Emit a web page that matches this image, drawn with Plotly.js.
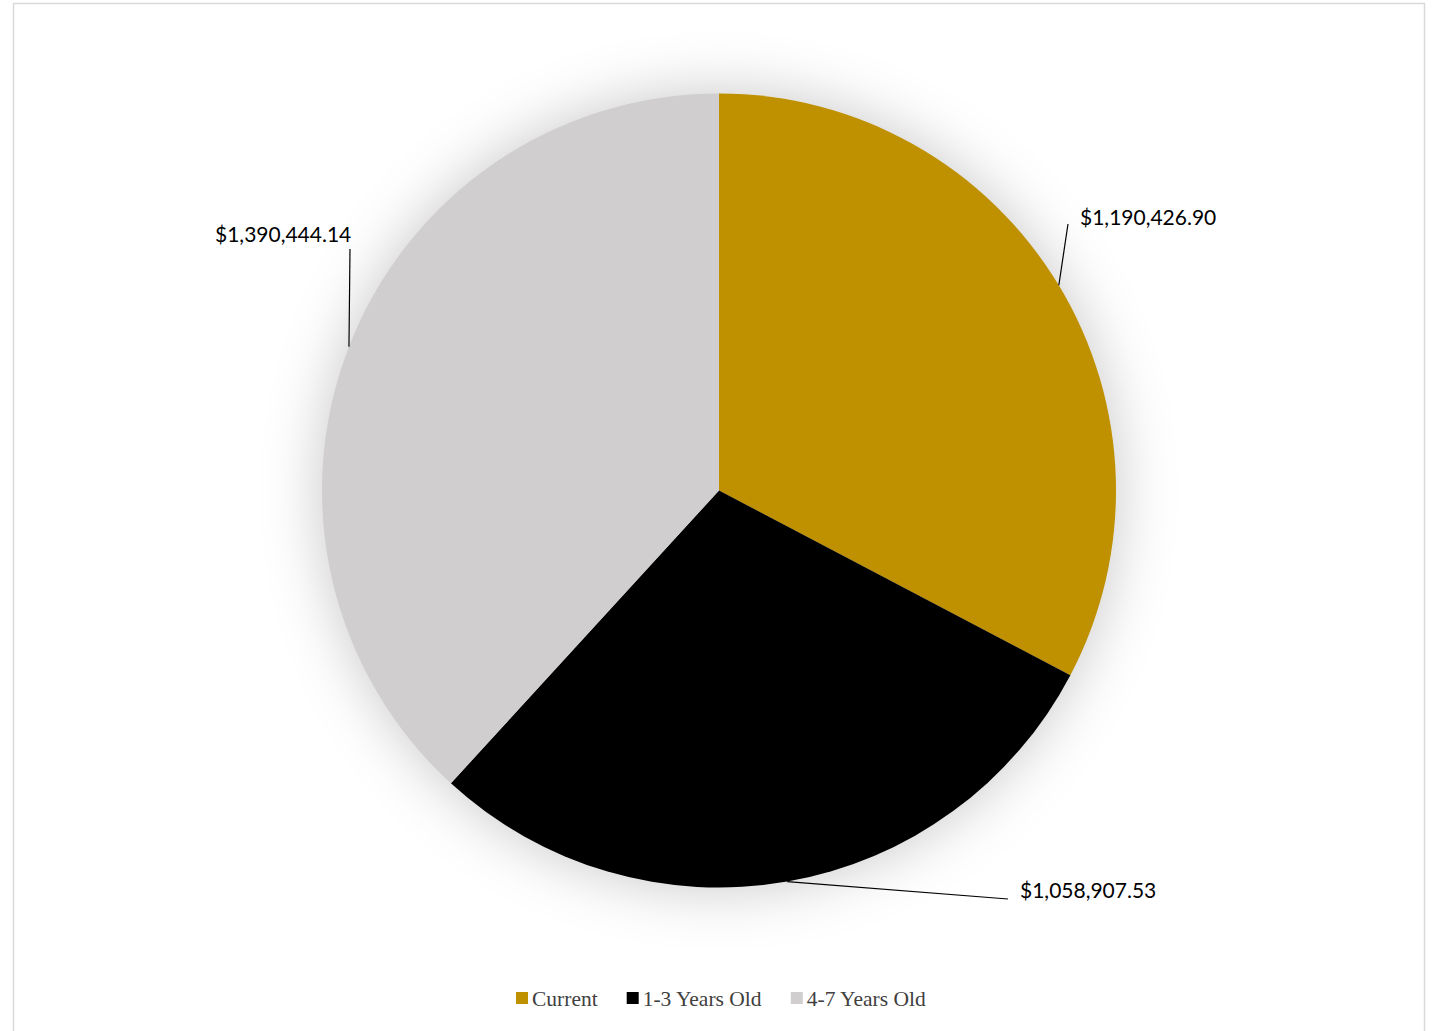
<!DOCTYPE html>
<html>
<head>
<meta charset="utf-8">
<script src="https://cdn.plot.ly/plotly-3.0.1.min.js"></script>
<style>
  html, body { margin: 0; padding: 0; background: #ffffff; }
  #chart { width: 1432px; height: 1031px; }
</style>
</head>
<body>
<div id="chart"></div>
<script>
// ---- data ----
const categories = ["Current", "1-3 Years Old", "4-7 Years Old"];
const values = [1190426.90, 1058907.53, 1390444.14];
const labelTexts = ["$1,190,426.90", "$1,058,907.53", "$1,390,444.14"];
const colors = ["#BF9000", "#000000", "#D0CECE"];

// ---- layout geometry (pixels) ----
const W = 1432, H = 1031;
const cx = 719, cy = 490.5, R = 397;
const px = x => x / W;
const py = y => 1 - y / H;

// label placement (style): leader line end, text position
const labelStyle = [
  { lineEnd: [1068, 224], text: [1078, 217], anchor: "left" },
  { lineEnd: [1008, 899], text: [1018, 889], anchor: "left" },
  { lineEnd: [350, 249],  text: [353, 234],  anchor: "right" }
];

const total = values.reduce((a, b) => a + b, 0);
let cum = 0;
const shapes = [];
const annotations = [];
values.forEach((v, i) => {
  const mid = (cum + v / 2) / total * 2 * Math.PI; // clockwise from 12 o'clock
  cum += v;
  const ex = cx + R * Math.sin(mid);
  const ey = cy - R * Math.cos(mid);
  const s = labelStyle[i];
  shapes.push({
    type: "line", xref: "paper", yref: "paper",
    x0: px(ex), y0: py(ey), x1: px(s.lineEnd[0]), y1: py(s.lineEnd[1]),
    line: { color: "#000000", width: 1.2 }
  });
  annotations.push({
    xref: "paper", yref: "paper",
    x: px(s.text[0]), y: py(s.text[1]),
    xanchor: s.anchor, yanchor: "middle",
    text: labelTexts[i], showarrow: false,
    font: { family: "Lato, 'Noto Sans', sans-serif", size: 21, color: "#000000" }
  });
});

// chart border
shapes.push({
  type: "rect", xref: "paper", yref: "paper",
  x0: px(13.5), x1: px(1424.5), y0: py(1040), y1: py(3.5),
  line: { color: "#D9D9D9", width: 1.5 }, fillcolor: "rgba(0,0,0,0)", layer: "below"
});

const trace = {
  type: "pie",
  labels: categories,
  values: values,
  sort: false,
  direction: "clockwise",
  rotation: 0,
  textinfo: "none",
  hoverinfo: "label+value",
  marker: { colors: colors, line: { width: 0 } },
  domain: { x: [px(cx - R), px(cx + R)], y: [py(cy + R), py(cy - R)] }
};

const layout = {
  width: W, height: H,
  margin: { l: 0, r: 0, t: 0, b: 0 },
  paper_bgcolor: "#ffffff",
  showlegend: true,
  legend: {
    orientation: "h",
    x: px(721.5), y: py(998),
    xanchor: "center", yanchor: "middle",
    font: { family: "'Liberation Serif', 'Times New Roman', serif", size: 21.5, color: "#404040" },
    itemwidth: 30,
    traceorder: "normal"
  },
  shapes: shapes,
  annotations: annotations
};

Plotly.newPlot("chart", [trace], layout, { displayModeBar: false, staticPlot: true }).then(() => {
  document.querySelectorAll(".pielayer").forEach(el => {
    el.style.filter = "drop-shadow(0px 0px 30px rgba(0,0,0,0.22))";
  });
  // tighten gap between legend swatch and its text
  document.querySelectorAll(".legend .legendtext").forEach(t => {
    const x = parseFloat(t.getAttribute("x")) || 40;
    t.setAttribute("x", x - 10);
  });
});
</script>
</body>
</html>
